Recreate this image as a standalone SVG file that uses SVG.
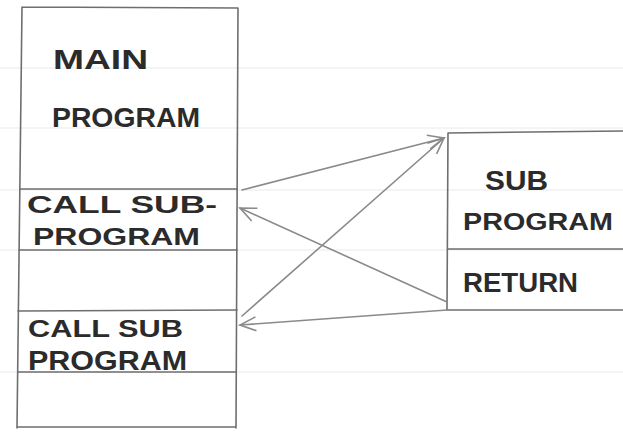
<svg xmlns="http://www.w3.org/2000/svg" width="623" height="432" viewBox="0 0 623 432">
<defs>
<style>
.paper{stroke:#f0f0f0;stroke-width:1.5;}
.box{stroke:#6e6e6e;stroke-width:1.6;fill:none;stroke-linecap:round;}
.arrow{stroke:#8a8a8a;stroke-width:1.6;fill:none;stroke-linecap:round;}
.lbl{font-family:"Liberation Sans",Arial,sans-serif;font-size:24px;font-weight:bold;fill:#2b2b2b;}
.big{font-size:27px;}
</style>
<marker id="ah" viewBox="0 0 20 20" refX="18" refY="10" markerWidth="20" markerHeight="20" markerUnits="userSpaceOnUse" orient="auto">
<path d="M2,3 L18,10 L2,17" fill="none" stroke="#8a8a8a" stroke-width="1.6"/>
</marker>
</defs>
<rect width="623" height="432" fill="#ffffff"/>
<g id="paper">
<line class="paper" x1="0" y1="68" x2="623" y2="68"/>
<line class="paper" x1="0" y1="128" x2="623" y2="128"/>
<line class="paper" x1="0" y1="190" x2="623" y2="190"/>
<line class="paper" x1="0" y1="250" x2="623" y2="250"/>
<line class="paper" x1="0" y1="372" x2="623" y2="372"/>
</g>
<g id="main-program">
<path class="box" d="M22,7 L238,8 M22,7 L17,428 M238,8 L236,428 M17,427 L236,427"/>
<line class="box" x1="20" y1="189" x2="237" y2="189"/>
<line class="box" x1="19" y1="250" x2="237" y2="250"/>
<line class="box" x1="18" y1="311" x2="237" y2="310"/>
<line class="box" x1="18" y1="372" x2="236" y2="372"/>
<text class="lbl big" x="53" y="69" textLength="95" lengthAdjust="spacingAndGlyphs">MAIN</text>
<text class="lbl big" x="52" y="127" textLength="148" lengthAdjust="spacingAndGlyphs">PROGRAM</text>
<text class="lbl" x="27" y="213" textLength="190" lengthAdjust="spacingAndGlyphs">CALL SUB-</text>
<text class="lbl" x="33" y="245" textLength="167" lengthAdjust="spacingAndGlyphs">PROGRAM</text>
<text class="lbl" x="28" y="337" textLength="155" lengthAdjust="spacingAndGlyphs">CALL SUB</text>
<text class="lbl big" x="28" y="370" textLength="159" lengthAdjust="spacingAndGlyphs">PROGRAM</text>
</g>
<g id="sub-program">
<path class="box" d="M448,133 L623,131 M448,133 L447,310 M448,249 L623,249 M447,310 L623,310"/>
<text class="lbl big" x="485" y="190" textLength="63" lengthAdjust="spacingAndGlyphs">SUB</text>
<text class="lbl" x="463" y="230" textLength="150" lengthAdjust="spacingAndGlyphs">PROGRAM</text>
<text class="lbl big" x="463" y="292" textLength="115" lengthAdjust="spacingAndGlyphs">RETURN</text>
</g>
<g id="connectors">
<line class="arrow" x1="242" y1="190" x2="444" y2="138" marker-end="url(#ah)"/>
<line class="arrow" x1="242" y1="316" x2="444" y2="138" marker-end="url(#ah)"/>
<line class="arrow" x1="447" y1="302" x2="240" y2="208" marker-end="url(#ah)"/>
<line class="arrow" x1="447" y1="310" x2="240" y2="325" marker-end="url(#ah)"/>
</g>
</svg>
